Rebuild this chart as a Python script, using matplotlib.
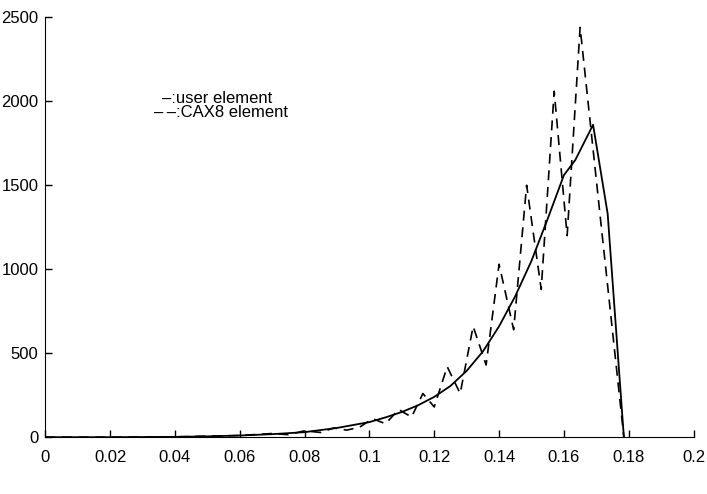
import matplotlib
matplotlib.use("Agg")
import matplotlib.pyplot as plt

plt.rcParams["font.family"] = ["Liberation Sans", "DejaVu Sans"]

# solid line: user element
x_user = [0.0, 0.02, 0.04, 0.05, 0.06, 0.07, 0.08, 0.09, 0.10, 0.105, 0.11, 0.115,
          0.12, 0.125, 0.13, 0.135, 0.14, 0.145, 0.15, 0.155, 0.16, 0.1635, 0.169,
          0.1735, 0.1785]
y_user = [0, 0, 2, 5, 10, 18, 30, 55, 90, 118, 150, 190,
          240, 305, 395, 510, 660, 840, 1050, 1300, 1560, 1650, 1860,
          1330, 0]

# dashed line: CAX8 element
x_cax8 = [0.0, 0.02, 0.04, 0.06, 0.07, 0.075, 0.08, 0.085, 0.089, 0.093, 0.097,
          0.101, 0.105, 0.109, 0.113, 0.1165, 0.120, 0.124, 0.128, 0.132, 0.136,
          0.140, 0.1445, 0.1485, 0.153, 0.157, 0.161, 0.165, 0.171, 0.1785]
y_cax8 = [0, 0, 2, 10, 22, 15, 38, 28, 55, 42, 60,
          110, 80, 165, 120, 260, 180, 420, 260, 660, 430,
          1030, 640, 1500, 880, 2060, 1200, 2440, 1350, 0]

x_ticks = [0, 0.02, 0.04, 0.06, 0.08, 0.1, 0.12, 0.14, 0.16, 0.18, 0.2]
x_tick_labels = ["0", "0.02", "0.04", "0.06", "0.08", "0.1", "0.12", "0.14",
                 "0.16", "0.18", "0.2"]
y_ticks = [0, 500, 1000, 1500, 2000, 2500]

fig = plt.figure(figsize=(7.07, 4.94), dpi=100)
ax = fig.add_axes([0.064, 0.115, 0.917, 0.85])

ax.plot(x_user, y_user, color="black", linewidth=1.3, linestyle="-")
ax.plot(x_cax8, y_cax8, color="black", linewidth=1.2, linestyle=(0, (6, 4)))

ax.set_xlim(0, 0.2)
ax.set_ylim(0, 2500)
ax.set_xticks(x_ticks)
ax.set_xticklabels(x_tick_labels)
ax.set_yticks(y_ticks)
ax.tick_params(direction="in", length=5, labelsize=12, width=1)
ax.tick_params(axis="x", pad=9)
ax.tick_params(axis="y", pad=5)
ax.spines["top"].set_visible(False)
ax.spines["right"].set_visible(False)

ax.text(0.036, 1990, "\u2013:user element", fontsize=12)
ax.text(0.0335, 1905, "\u2013\u2009\u2013:CAX8 element", fontsize=12)

fig.savefig("out.png", dpi=100)
